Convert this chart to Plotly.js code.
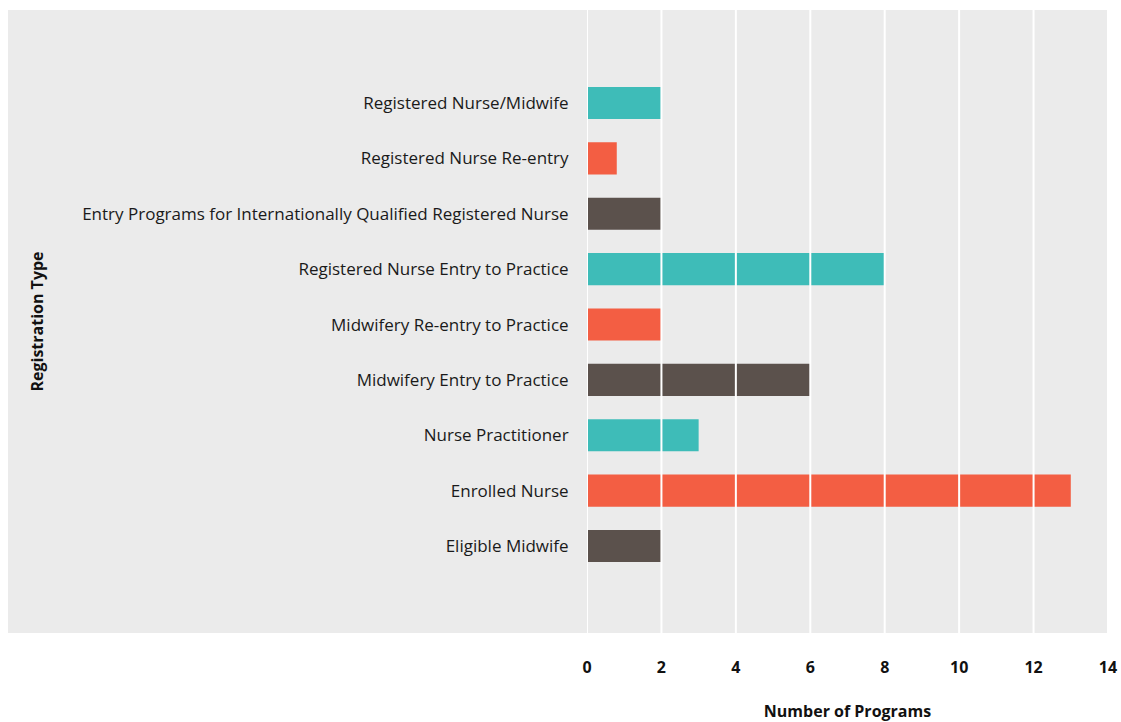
<!DOCTYPE html>
<html>
<head>
<meta charset="utf-8">
<script src="https://cdn.plot.ly/plotly-3.0.1.min.js"></script>
<style>html,body{margin:0;padding:0;background:#fff;}#chart{width:1121px;height:722px;}</style>
</head>
<body>
<div id="chart"></div>
<script>
const categories = [
  "Eligible Midwife",
  "Enrolled Nurse",
  "Nurse Practitioner",
  "Midwifery Entry to Practice",
  "Midwifery Re-entry to Practice",
  "Registered Nurse Entry to Practice",
  "Entry Programs for Internationally Qualified Registered Nurse",
  "Registered Nurse Re-entry",
  "Registered Nurse/Midwife"
];
const programCounts = [2, 13, 3, 6, 2, 8, 2, 0.8, 2];
const barColors = ["#5B514C", "#F35E43", "#3EBCB8", "#5B514C", "#F35E43", "#3EBCB8", "#5B514C", "#F35E43", "#3EBCB8"];
const xTicks = [0, 2, 4, 6, 8, 10, 12, 14];

const font = "Open Sans, Noto Sans, sans-serif";

const gridShapes = xTicks.map(v => ({
  type: "line", xref: "x", yref: "paper", x0: v, x1: v, y0: 0, y1: 1,
  line: {color: "#ffffff", width: 2}, layer: "above"
}));

const bgShape = {
  type: "rect", xref: "paper", yref: "paper",
  x0: -579/521, x1: 1, y0: 0, y1: 1,
  fillcolor: "#EBEBEB", line: {width: 0}, layer: "below"
};

Plotly.newPlot("chart", [{
  type: "bar",
  orientation: "h",
  y: categories,
  x: programCounts,
  width: 0.58,
  marker: {color: barColors, line: {width: 0}},
  hoverinfo: "x+y"
}], {
  width: 1121, height: 722,
  margin: {l: 587, r: 13, t: 10, b: 89},
  paper_bgcolor: "#ffffff",
  plot_bgcolor: "#EBEBEB",
  showlegend: false,
  font: {family: font, color: "#1a1a1a"},
  xaxis: {
    range: [0, 14],
    tickvals: xTicks,
    ticktext: xTicks.map(String),
    showgrid: false,
    zeroline: false,
    showline: false,
    ticks: "outside", ticklen: 20, tickcolor: "rgba(0,0,0,0)",
    tickfont: {family: font, size: 16, color: "#111", weight: "bold"},
    title: {text: "<b>Number of Programs</b>", font: {family: font, size: 16, color: "#111"}, standoff: 28}
  },
  yaxis: {
    range: [-1.57, 9.68],
    showgrid: false,
    zeroline: false,
    showline: false,
    ticks: "outside", ticklen: 14, tickcolor: "rgba(0,0,0,0)",
    tickfont: {family: font, size: 17, color: "#1a1a1a"},
    title: {text: "<b>Registration Type</b>", font: {family: font, size: 16, color: "#111"}, standoff: 34}
  },
  shapes: [bgShape].concat(gridShapes)
}, {displayModeBar: false, staticPlot: true});
</script>
</body>
</html>
